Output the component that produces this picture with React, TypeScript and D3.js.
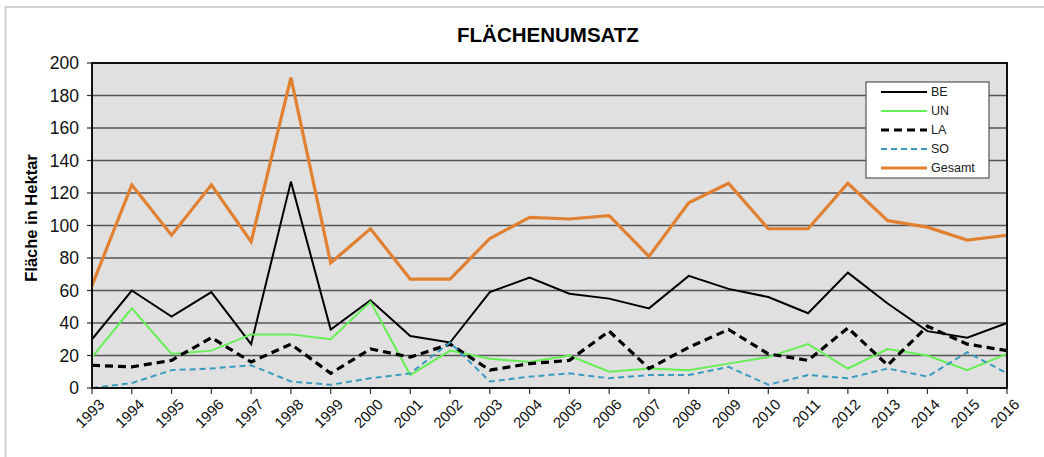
import React from "react";
import * as d3 from "d3";

const years = [1993,1994,1995,1996,1997,1998,1999,2000,2001,2002,2003,2004,2005,2006,2007,2008,2009,2010,2011,2012,2013,2014,2015,2016];
const BE = [30,60,44,59,27,127,36,54,32,28,59,68,58,55,49,69,61,56,46,71,52,35,31,40];
const UN = [19,49,21,23,33,33,30,53,8,23,18,16,20,10,12,11,15,19,27,12,24,20,11,21];
const LA = [14,13,17,31,16,27,9,24,19,27,11,15,17,35,12,25,36,21,17,37,14,38,27,23];
const SO = [0,3,11,12,14,4,2,6,9,28,4,7,9,6,8,8,13,2,8,6,12,7,22,9];
const Gesamt = [63,125,94,125,90,191,77,98,67,67,92,105,104,106,81,114,126,98,98,126,103,99,91,94];
const yTicks = [0,20,40,60,80,100,120,140,160,180,200];

const series = [
  { name: "BE", values: BE, color: "#000000", width: 2, dash: "" },
  { name: "UN", values: UN, color: "#66ee55", width: 2, dash: "" },
  { name: "LA", values: LA, color: "#000000", width: 3.2, dash: "8,5" },
  { name: "SO", values: SO, color: "#3a9bbf", width: 2, dash: "6,4" },
  { name: "Gesamt", values: Gesamt, color: "#e08030", width: 3.2, dash: "" },
];

export default function App() {
  const W = 1044, H = 457;
  const left = 92, right = 1007, top = 63, bottom = 388;
  const x = d3.scaleLinear().domain([years[0], years[years.length - 1]]).range([left, right]);
  const y = d3.scaleLinear().domain([0, 200]).range([bottom, top]);
  const line = (vals: number[]) =>
    d3.line<number>().x((_, i) => x(years[i])).y((d) => y(d))(vals) || "";
  const font = "'Liberation Sans', Arial, sans-serif";
  const lg = { x: 866, y: 82, w: 123, h: 96 };
  return (
    <svg width={W} height={H} style={{ position: "absolute", left: 0, top: 0 }} fontFamily={font}>
      <rect x={0} y={0} width={W} height={H} fill="#fff" />
      <rect x={5.5} y={7} width={W + 10} height={H + 10} fill="none" stroke="#d0d0d0" strokeWidth={2} />
      <text x={548} y={42} textAnchor="middle" fontSize={20.5} fontWeight="bold">FLÄCHENUMSATZ</text>
      <rect x={left} y={top} width={right - left} height={bottom - top} fill="#e0e0e0" />
      {yTicks.map((t) => (
        <g key={t}>
          <line x1={left} x2={right} y1={y(t)} y2={y(t)} stroke="#555" strokeWidth={1.5} />
          <line x1={left - 5} x2={left} y1={y(t)} y2={y(t)} stroke="#333" strokeWidth={1.2} />
          <text x={left - 13} y={y(t)} dy="0.35em" textAnchor="end" fontSize={17.5} fill="#111">{t}</text>
        </g>
      ))}
      {years.map((yr) => (
        <g key={yr}>
          <line x1={x(yr)} x2={x(yr)} y1={bottom} y2={bottom + 6} stroke="#333" strokeWidth={1.2} />
          <text transform={`translate(${x(yr) + 6},${bottom + 10}) rotate(-45)`} textAnchor="end" dy="0.7em" fontSize={15} fill="#111">{yr}</text>
        </g>
      ))}
      <text transform={`translate(37,218) rotate(-90)`} textAnchor="middle" fontSize={16.5} fontWeight="bold">Fläche in Hektar</text>
      {series.map((s) => (
        <path key={s.name} d={line(s.values)} fill="none" stroke={s.color} strokeWidth={s.width} strokeDasharray={s.dash || undefined} strokeLinejoin="miter" />
      ))}
      <rect x={left} y={top} width={right - left} height={bottom - top} fill="none" stroke="#111" strokeWidth={2} />
      <rect x={lg.x} y={lg.y} width={lg.w} height={lg.h} fill="#fff" stroke="#555" strokeWidth={1.2} />
      {series.map((s, i) => {
        const ly = lg.y + 10 + i * 19;
        return (
          <g key={s.name}>
            <line x1={881} x2={927} y1={ly} y2={ly} stroke={s.color} strokeWidth={s.width} strokeDasharray={s.dash || undefined} />
            <text x={931} y={ly} dy="0.35em" fontSize={12.5} fill="#222">{s.name}</text>
          </g>
        );
      })}
    </svg>
  );
}
